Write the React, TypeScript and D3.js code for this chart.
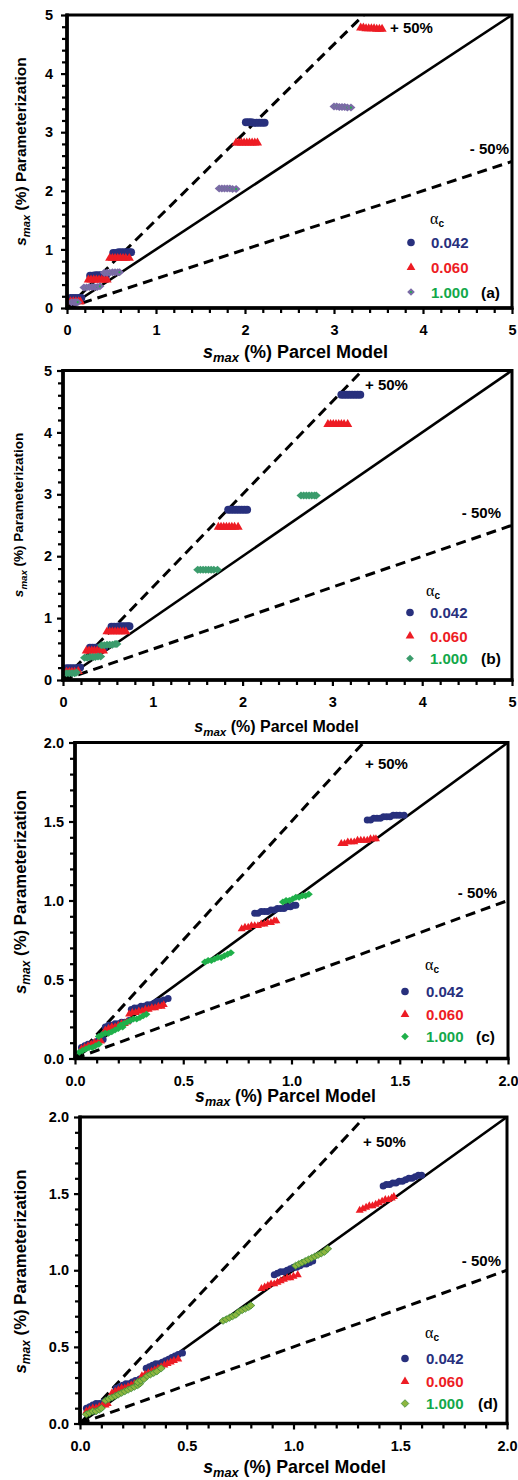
import React, { useEffect, useRef } from 'react';
import * as d3 from 'd3';

// ---- data: [parcel model, parameterization] in % ----
const aBlue = [
  [0.04, 0.17], [0.07, 0.17], [0.10, 0.17], [0.13, 0.17], [0.16, 0.17],
  [0.26, 0.55], [0.29, 0.55], [0.32, 0.56], [0.35, 0.56], [0.38, 0.56], [0.41, 0.56], [0.44, 0.56],
  [0.52, 0.94], [0.55, 0.94], [0.58, 0.95], [0.61, 0.95], [0.64, 0.95], [0.67, 0.95], [0.70, 0.95], [0.72, 0.95],
  [2.01, 3.17], [2.04, 3.17], [2.07, 3.17], [2.10, 3.16], [2.13, 3.16], [2.16, 3.16], [2.19, 3.16], [2.22, 3.16],
];
const aRed = [
  [0.04, 0.11], [0.07, 0.11], [0.10, 0.11], [0.13, 0.11], [0.15, 0.11],
  [0.24, 0.48], [0.27, 0.48], [0.30, 0.48], [0.33, 0.48], [0.36, 0.48], [0.39, 0.48], [0.42, 0.48], [0.45, 0.48],
  [0.48, 0.85], [0.51, 0.85], [0.54, 0.85], [0.57, 0.85], [0.60, 0.85], [0.63, 0.85], [0.66, 0.85], [0.70, 0.85],
  [1.90, 2.82], [1.93, 2.82], [1.96, 2.82], [1.99, 2.82], [2.02, 2.82], [2.05, 2.82], [2.08, 2.82], [2.11, 2.82], [2.14, 2.82],
  [3.30, 4.78], [3.33, 4.78], [3.36, 4.77], [3.39, 4.77], [3.42, 4.77], [3.45, 4.77], [3.48, 4.76], [3.51, 4.76], [3.54, 4.76],
];
const aDiamond = [
  [0.05, 0.10], [0.08, 0.10], [0.10, 0.10], [0.12, 0.10],
  [0.19, 0.35], [0.22, 0.35], [0.25, 0.36], [0.28, 0.36], [0.31, 0.36], [0.34, 0.36], [0.37, 0.37],
  [0.42, 0.60], [0.45, 0.60], [0.48, 0.60], [0.51, 0.61], [0.54, 0.61], [0.57, 0.61], [0.59, 0.61],
  [1.71, 2.04], [1.74, 2.04], [1.77, 2.04], [1.80, 2.04], [1.83, 2.04], [1.86, 2.03], [1.90, 2.03],
  [3.00, 3.44], [3.03, 3.44], [3.06, 3.43], [3.09, 3.43], [3.12, 3.43], [3.15, 3.42], [3.19, 3.42],
];

const bBlue = [
  [0.04, 0.19], [0.07, 0.19], [0.10, 0.19], [0.13, 0.19], [0.16, 0.19], [0.19, 0.20],
  [0.30, 0.52], [0.33, 0.52], [0.36, 0.52], [0.39, 0.52], [0.42, 0.53], [0.46, 0.53],
  [0.54, 0.86], [0.57, 0.86], [0.60, 0.86], [0.63, 0.87], [0.66, 0.87], [0.69, 0.87], [0.72, 0.87], [0.74, 0.87],
  [1.84, 2.75], [1.87, 2.75], [1.90, 2.75], [1.93, 2.75], [1.96, 2.75], [1.99, 2.75], [2.02, 2.75], [2.05, 2.75],
  [3.10, 4.61], [3.13, 4.61], [3.16, 4.61], [3.19, 4.61], [3.22, 4.61], [3.25, 4.61], [3.28, 4.61], [3.31, 4.61],
];
const bRed = [
  [0.04, 0.13], [0.07, 0.13], [0.10, 0.13], [0.13, 0.13], [0.17, 0.14],
  [0.26, 0.47], [0.29, 0.47], [0.32, 0.47], [0.35, 0.47], [0.38, 0.47], [0.41, 0.47], [0.45, 0.47],
  [0.49, 0.78], [0.52, 0.78], [0.55, 0.78], [0.58, 0.78], [0.61, 0.78], [0.64, 0.78], [0.67, 0.78], [0.70, 0.78],
  [1.73, 2.47], [1.76, 2.47], [1.79, 2.47], [1.82, 2.47], [1.85, 2.47], [1.88, 2.47], [1.91, 2.47], [1.95, 2.47],
  [2.95, 4.13], [2.98, 4.13], [3.01, 4.13], [3.04, 4.13], [3.07, 4.13], [3.10, 4.13], [3.13, 4.13], [3.17, 4.13],
];
const bDiamond = [
  [0.04, 0.11], [0.07, 0.11], [0.10, 0.11], [0.13, 0.11], [0.15, 0.12],
  [0.24, 0.36], [0.27, 0.36], [0.30, 0.37], [0.33, 0.37], [0.36, 0.37], [0.39, 0.38], [0.42, 0.38],
  [0.43, 0.56], [0.46, 0.56], [0.49, 0.57], [0.52, 0.57], [0.55, 0.57], [0.58, 0.58], [0.60, 0.58],
  [1.50, 1.78], [1.53, 1.78], [1.56, 1.78], [1.59, 1.78], [1.62, 1.78], [1.65, 1.78], [1.68, 1.78], [1.72, 1.78],
  [2.65, 2.98], [2.68, 2.98], [2.71, 2.98], [2.74, 2.98], [2.77, 2.98], [2.80, 2.98], [2.82, 2.98],
];

const cBlue = [
  [0.03, 0.07], [0.045, 0.08], [0.06, 0.09], [0.075, 0.09], [0.09, 0.10], [0.105, 0.11], [0.12, 0.12], [0.13, 0.12],
  [0.14, 0.20], [0.155, 0.21], [0.17, 0.21], [0.185, 0.22], [0.20, 0.22], [0.215, 0.23], [0.23, 0.23], [0.25, 0.24],
  [0.26, 0.31], [0.275, 0.32], [0.29, 0.32], [0.305, 0.33], [0.32, 0.33], [0.335, 0.34], [0.35, 0.34], [0.365, 0.35],
  [0.38, 0.36], [0.395, 0.36], [0.41, 0.37], [0.43, 0.38],
  [0.83, 0.92], [0.845, 0.92], [0.86, 0.93], [0.875, 0.93], [0.89, 0.93], [0.905, 0.94], [0.92, 0.94], [0.935, 0.95],
  [0.95, 0.95], [0.965, 0.95], [0.98, 0.96], [0.995, 0.96], [1.01, 0.97], [1.02, 0.97],
  [1.35, 1.51], [1.365, 1.51], [1.38, 1.52], [1.395, 1.52], [1.41, 1.52], [1.425, 1.53], [1.44, 1.53], [1.455, 1.53],
  [1.47, 1.54], [1.485, 1.54], [1.50, 1.54], [1.52, 1.54],
];
const cRed = [
  [0.03, 0.06], [0.045, 0.07], [0.06, 0.08], [0.075, 0.09], [0.09, 0.10], [0.105, 0.10], [0.12, 0.11],
  [0.14, 0.18], [0.155, 0.19], [0.17, 0.20], [0.185, 0.20], [0.20, 0.21], [0.215, 0.22], [0.23, 0.22], [0.24, 0.23],
  [0.25, 0.28], [0.265, 0.29], [0.28, 0.29], [0.295, 0.30], [0.31, 0.30], [0.325, 0.31], [0.34, 0.31], [0.355, 0.32],
  [0.37, 0.32], [0.385, 0.33], [0.40, 0.33], [0.41, 0.34],
  [0.77, 0.82], [0.785, 0.83], [0.80, 0.83], [0.815, 0.84], [0.83, 0.84], [0.845, 0.84], [0.86, 0.85], [0.875, 0.85],
  [0.89, 0.86], [0.905, 0.86], [0.92, 0.87], [0.93, 0.87],
  [1.23, 1.36], [1.245, 1.36], [1.26, 1.37], [1.275, 1.37], [1.29, 1.37], [1.305, 1.38], [1.32, 1.38], [1.335, 1.38],
  [1.35, 1.38], [1.365, 1.39], [1.38, 1.39], [1.39, 1.39],
];
const cDiamond = [
  [0.02, 0.04], [0.035, 0.05], [0.05, 0.06], [0.065, 0.07], [0.08, 0.07], [0.095, 0.08], [0.11, 0.09],
  [0.11, 0.14], [0.125, 0.15], [0.14, 0.16], [0.155, 0.16], [0.17, 0.17], [0.185, 0.18], [0.20, 0.19], [0.22, 0.20],
  [0.21, 0.21], [0.225, 0.22], [0.24, 0.23], [0.255, 0.24], [0.27, 0.25], [0.285, 0.25], [0.30, 0.26], [0.315, 0.27], [0.33, 0.28],
  [0.60, 0.61], [0.615, 0.62], [0.63, 0.62], [0.645, 0.63], [0.66, 0.64], [0.675, 0.64], [0.69, 0.65], [0.705, 0.66], [0.72, 0.67],
  [0.96, 0.99], [0.975, 1.00], [0.99, 1.00], [1.005, 1.01], [1.02, 1.02], [1.035, 1.02], [1.05, 1.03], [1.065, 1.03], [1.08, 1.04],
];

const dBlue = [
  [0.03, 0.10], [0.045, 0.11], [0.06, 0.12], [0.075, 0.13], [0.09, 0.13], [0.11, 0.14],
  [0.17, 0.23], [0.185, 0.24], [0.20, 0.25], [0.215, 0.26], [0.23, 0.26], [0.245, 0.27], [0.26, 0.28], [0.28, 0.29],
  [0.31, 0.36], [0.325, 0.37], [0.34, 0.38], [0.355, 0.39], [0.37, 0.39], [0.385, 0.40], [0.40, 0.41], [0.415, 0.42],
  [0.43, 0.43], [0.445, 0.44], [0.46, 0.45], [0.48, 0.46],
  [0.91, 0.97], [0.925, 0.98], [0.94, 0.99], [0.955, 0.99], [0.97, 1.00], [0.985, 1.01], [1.00, 1.02], [1.015, 1.02],
  [1.03, 1.03], [1.045, 1.04], [1.06, 1.04], [1.075, 1.05], [1.09, 1.06],
  [1.42, 1.55], [1.435, 1.56], [1.45, 1.56], [1.465, 1.57], [1.48, 1.57], [1.495, 1.58], [1.51, 1.58], [1.525, 1.59],
  [1.54, 1.60], [1.555, 1.60], [1.57, 1.61], [1.585, 1.62], [1.60, 1.62],
];
const dRed = [
  [0.03, 0.08], [0.045, 0.09], [0.06, 0.10], [0.075, 0.10], [0.09, 0.11], [0.105, 0.12], [0.12, 0.12], [0.13, 0.13],
  [0.15, 0.20], [0.165, 0.21], [0.18, 0.22], [0.195, 0.23], [0.21, 0.23], [0.225, 0.24], [0.24, 0.25], [0.255, 0.26], [0.27, 0.27],
  [0.29, 0.31], [0.305, 0.32], [0.32, 0.33], [0.335, 0.34], [0.35, 0.35], [0.365, 0.36], [0.38, 0.37], [0.395, 0.38],
  [0.41, 0.39], [0.425, 0.40], [0.44, 0.41], [0.46, 0.42],
  [0.85, 0.88], [0.865, 0.89], [0.88, 0.90], [0.895, 0.91], [0.91, 0.91], [0.925, 0.92], [0.94, 0.93], [0.955, 0.94],
  [0.97, 0.95], [0.985, 0.95], [1.00, 0.96], [1.02, 0.97],
  [1.31, 1.39], [1.325, 1.40], [1.34, 1.41], [1.355, 1.42], [1.37, 1.42], [1.385, 1.43], [1.40, 1.44], [1.415, 1.45],
  [1.43, 1.46], [1.445, 1.46], [1.46, 1.47], [1.47, 1.48],
];
const dDiamond = [
  [0.03, 0.06], [0.045, 0.07], [0.06, 0.08], [0.075, 0.08], [0.09, 0.09], [0.10, 0.10],
  [0.12, 0.15], [0.135, 0.16], [0.15, 0.17], [0.165, 0.18], [0.18, 0.19], [0.195, 0.20], [0.21, 0.21], [0.225, 0.22],
  [0.24, 0.23], [0.255, 0.24], [0.27, 0.25], [0.28, 0.26],
  [0.27, 0.27], [0.285, 0.28], [0.30, 0.29], [0.315, 0.31], [0.33, 0.32], [0.345, 0.33], [0.36, 0.34], [0.38, 0.36],
  [0.67, 0.67], [0.685, 0.68], [0.70, 0.69], [0.715, 0.70], [0.73, 0.71], [0.745, 0.73], [0.76, 0.74], [0.775, 0.75],
  [0.79, 0.76], [0.80, 0.77],
  [1.01, 1.03], [1.025, 1.04], [1.04, 1.05], [1.055, 1.06], [1.07, 1.07], [1.085, 1.08], [1.10, 1.09], [1.115, 1.10],
  [1.13, 1.11], [1.145, 1.12], [1.16, 1.14],
];

const legendLabels = ['0.042', '0.060', '1.000'];
const panelTags = ['(a)', '(b)', '(c)', '(d)'];

const BLUE = '#28307d';
const RED = '#ed1c24';
const GREEN_TEXT = '#12a84a';
const FONT = "'Liberation Sans', Arial, sans-serif";

// layout of each panel (pixels)
const panels = [
  {
    frame: { l: 67, r: 512, t: 15, b: 308 }, max: 5, minor: 0.2, fmt: d3.format('d'),
    series: [aBlue, aRed, aDiamond], dia: { fill: '#7b6ba6', stroke: 'none', dot: '#22b14c', rx: 4.5, ry: 4 },
    mSize: 4, yPad: 8, xFont: 18, yFont: 15.5, xLab: [295.5, 358], yLab: [26, 151.5],
    plus: [390, 33], minus: [509, 154],
    leg: { ax: 430, ay: 224, mx: 411, tx: 431, rows: [248, 273, 297.5], tagX: 481 },
  },
  {
    frame: { l: 63, r: 512, t: 370.5, b: 680 }, max: 5, minor: 0.2, fmt: d3.format('d'),
    series: [bBlue, bRed, bDiamond], dia: { fill: '#3b9c6c', stroke: 'none', dot: null, rx: 4.5, ry: 4 },
    mSize: 4, yPad: 5, xFont: 16, yFont: 13.5, xLab: [276.5, 732], yLab: [23, 515],
    plus: [365, 390], minus: [501, 518],
    leg: { ax: 426, ay: 596, mx: 410, tx: 430, rows: [618, 641.5, 664], tagX: 481 },
  },
  {
    frame: { l: 75, r: 508, t: 742.5, b: 1058.5 }, max: 2, minor: 0.1, fmt: d3.format('.1f'),
    series: [cBlue, cRed, cDiamond], dia: { fill: '#1fb04a', stroke: 'none', dot: null, rx: 4, ry: 3.5 },
    mSize: 3.5, yPad: 5, xFont: 17.6, yFont: 16.8, xLab: [285.5, 1102], yLab: [26, 892],
    plus: [365, 769], minus: [497, 898],
    leg: { ax: 425, ay: 970, mx: 405, tx: 426, rows: [997, 1020, 1042], tagX: 476 },
  },
  {
    frame: { l: 80, r: 507, t: 1117, b: 1423.5 }, max: 2, minor: 0.1, fmt: d3.format('.1f'),
    series: [dBlue, dRed, dDiamond], dia: { fill: '#8db63f', stroke: '#3c8c3a', dot: null, rx: 4, ry: 3.5 },
    mSize: 3.5, yPad: 5, xFont: 17.8, yFont: 16.8, xLab: [294.5, 1473], yLab: [26, 1271.5],
    plus: [363, 1147], minus: [501, 1265.5],
    leg: { ax: 425, ay: 1338, mx: 405, tx: 426, rows: [1364, 1387, 1409], tagX: 478 },
  },
];

const drawMarker = (g, kind, x, y, size, dia) => {
  if (kind === 0) {
    g.append('circle').attr('cx', x).attr('cy', y).attr('r', size).attr('fill', BLUE);
  } else if (kind === 1) {
    const area = (size * 2.3) ** 2 * Math.sqrt(3) / 4;
    g.append('path')
      .attr('d', d3.symbol(d3.symbolTriangle, area)())
      .attr('transform', `translate(${x},${y})`)
      .attr('fill', RED);
  } else {
    g.append('path')
      .attr('d', `M0,${-dia.ry}L${dia.rx},0L0,${dia.ry}L${-dia.rx},0Z`)
      .attr('transform', `translate(${x},${y})`)
      .attr('fill', dia.fill)
      .attr('stroke', dia.stroke)
      .attr('stroke-width', 0.8);
    if (dia.dot) {
      g.append('circle').attr('cx', x).attr('cy', y).attr('r', 1.1).attr('fill', dia.dot);
    }
  }
};

const App = () => {
  const svgRef = useRef(null);

  useEffect(() => {
    const svg = d3.select(svgRef.current);
    svg.selectAll('*').remove();

    panels.forEach((p, pi) => {
      const { l, r, t, b } = p.frame;
      const x = d3.scaleLinear().domain([0, p.max]).range([l, r]);
      const y = d3.scaleLinear().domain([0, p.max]).range([b, t]);
      const g = svg.append('g').attr('font-family', FONT).attr('font-weight', 'bold');

      const clipId = `clip${pi}`;
      svg.append('clipPath').attr('id', clipId)
        .append('rect').attr('x', l).attr('y', t).attr('width', r - l).attr('height', b - t);

      const majors = d3.range(0, p.max + 1e-9, p.max === 5 ? 1 : 0.5);
      const minors = d3.range(0, p.max + 1e-9, p.minor).filter(v => !majors.some(m => Math.abs(m - v) < 1e-6));

      // minor ticks
      const axMinX = g.append('g').attr('transform', `translate(0,${b})`)
        .call(d3.axisBottom(x).tickValues(minors).tickSize(5).tickFormat(() => ''));
      const axMinY = g.append('g').attr('transform', `translate(${l},0)`)
        .call(d3.axisLeft(y).tickValues(minors).tickSize(5).tickFormat(() => ''));
      // major ticks
      const axX = g.append('g').attr('transform', `translate(0,${b})`)
        .call(d3.axisBottom(x).tickValues(majors).tickSize(6).tickPadding(11).tickFormat(p.fmt));
      const axY = g.append('g').attr('transform', `translate(${l},0)`)
        .call(d3.axisLeft(y).tickValues(majors).tickSize(6).tickPadding(p.yPad).tickFormat(p.fmt));
      [axMinX, axMinY, axX, axY].forEach(a => {
        a.select('.domain').remove();
        a.selectAll('line').attr('stroke', '#000').attr('stroke-width', 2.2);
        a.selectAll('text').attr('font-family', FONT).attr('font-weight', 'bold')
          .attr('font-size', 14.5).attr('fill', '#000');
      });

      // reference lines: 1:1, +50 %, -50 %
      const lines = g.append('g').attr('clip-path', `url(#${clipId})`);
      lines.append('line').attr('x1', x(0)).attr('y1', y(0)).attr('x2', x(p.max)).attr('y2', y(p.max))
        .attr('stroke', '#000').attr('stroke-width', 2.6);
      lines.append('line').attr('x1', x(0)).attr('y1', y(0)).attr('x2', x(p.max)).attr('y2', y(p.max * 1.5))
        .attr('stroke', '#000').attr('stroke-width', 3).attr('stroke-dasharray', '10,6');
      lines.append('line').attr('x1', x(0)).attr('y1', y(0)).attr('x2', x(p.max)).attr('y2', y(p.max * 0.5))
        .attr('stroke', '#000').attr('stroke-width', 3).attr('stroke-dasharray', '10,6');

      // data
      const marks = g.append('g');
      p.series.forEach((s, si) => {
        s.forEach(d => drawMarker(marks, si, x(d[0]), y(d[1]), p.mSize, p.dia));
      });

      // frame
      g.append('rect').attr('x', l).attr('y', t).attr('width', r - l).attr('height', b - t)
        .attr('fill', 'none').attr('stroke', '#000').attr('stroke-width', 3);
      g.append('line').attr('x1', l).attr('x2', l).attr('y1', t - 1.5).attr('y2', b + 1.5)
        .attr('stroke', '#000').attr('stroke-width', 3.6);
      g.append('line').attr('x1', l - 1.5).attr('x2', r + 1.5).attr('y1', b).attr('y2', b)
        .attr('stroke', '#000').attr('stroke-width', 3.6);

      // axis titles
      const xt = g.append('text').attr('x', p.xLab[0]).attr('y', p.xLab[1])
        .attr('text-anchor', 'middle').attr('font-size', p.xFont);
      xt.append('tspan').attr('font-style', 'italic').text('s');
      xt.append('tspan').attr('font-style', 'italic').attr('font-size', p.xFont * 0.72).attr('dy', 4).text('max');
      xt.append('tspan').attr('dy', -4).text(' (%) Parcel Model');

      const yt = g.append('text')
        .attr('transform', `translate(${p.yLab[0]},${p.yLab[1]}) rotate(-90)`)
        .attr('text-anchor', 'middle').attr('font-size', p.yFont);
      yt.append('tspan').attr('font-style', 'italic').text('s');
      yt.append('tspan').attr('font-style', 'italic').attr('font-size', p.yFont * 0.72).attr('dy', 4).text('max');
      yt.append('tspan').attr('dy', -4).text(' (%) Parameterization');

      // line labels
      g.append('text').attr('x', p.plus[0]).attr('y', p.plus[1]).attr('font-size', 15).text('+ 50%');
      g.append('text').attr('x', p.minus[0]).attr('y', p.minus[1]).attr('font-size', 15)
        .attr('text-anchor', 'end').text('- 50%');

      // legend
      const lg = p.leg;
      const at = g.append('text').attr('x', lg.ax).attr('y', lg.ay);
      at.append('tspan').attr('font-family', "'Liberation Serif', 'Times New Roman', serif")
        .attr('font-weight', 'normal').attr('font-size', 16).text('α');
      at.append('tspan').attr('font-size', 10).attr('dy', 3).text('c');
      const colors = [BLUE, RED, GREEN_TEXT];
      legendLabels.forEach((lab, i) => {
        drawMarker(g, i, lg.mx, lg.rows[i] - 5.5, i === 2 ? 3.6 : 3.8,
          { ...p.dia, rx: 3.8, ry: 3.8 });
        g.append('text').attr('x', lg.tx).attr('y', lg.rows[i]).attr('font-size', 15)
          .attr('fill', colors[i]).text(lab);
      });
      g.append('text').attr('x', lg.tagX).attr('y', lg.rows[2]).attr('font-size', 15.5)
        .attr('fill', '#000').text(panelTags[pi]);
    });
  }, []);

  return (
    <svg ref={svgRef} width={518} height={1480}
      style={{ position: 'absolute', left: 0, top: 0, background: '#fff' }} />
  );
};

export default App;
